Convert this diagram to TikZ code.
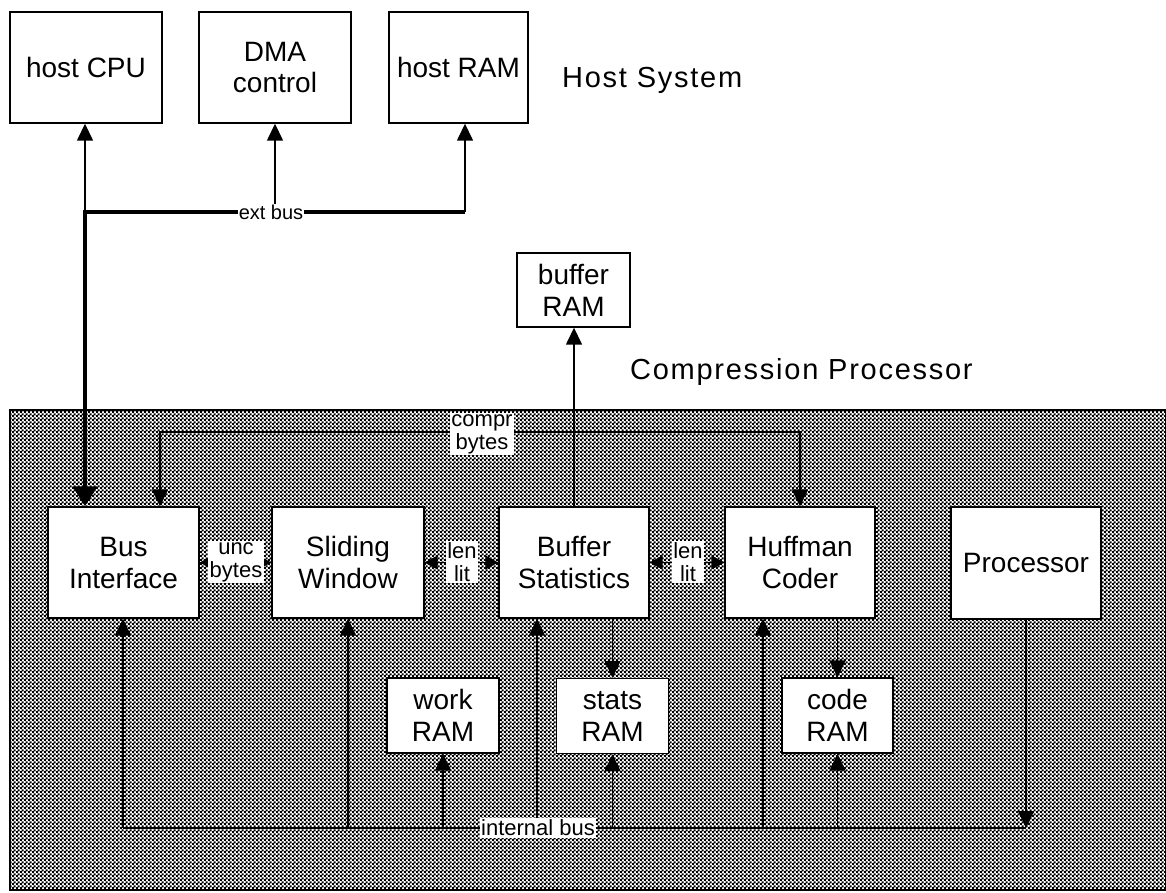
\documentclass[tikz,border=0pt]{standalone}
\usepackage{fontspec}
\setmainfont{Liberation Sans}
\usetikzlibrary{arrows.meta,patterns}
\pgfdeclarepatternformonly{halftone}{\pgfqpoint{0pt}{0pt}}{\pgfqpoint{4pt}{4pt}}{\pgfqpoint{4pt}{4pt}}{%
  \pgfpathrectangle{\pgfqpoint{0pt}{0pt}}{\pgfqpoint{2.4pt}{2.4pt}}%
  \pgfpathrectangle{\pgfqpoint{2pt}{2pt}}{\pgfqpoint{2.4pt}{2.4pt}}%
  \pgfusepath{fill}}
\begin{document}
\begin{tikzpicture}[x=1pt,y=-1pt,
  box/.style={draw,line width=1.4pt,fill=white,inner sep=0pt,align=center,
    font=\fontsize{28}{32}\selectfont},
  lbl/.style={fill=white,inner sep=1.5pt,align=center,font=\fontsize{22}{23}\selectfont},
  big/.style={inner sep=0pt,font=\fontsize{29}{32}\selectfont\addfontfeature{LetterSpace=6}},
  conn/.style={line width=1.5pt},
  arr/.style={conn,-{Triangle[length=17pt,width=16pt]}},
  dblarr/.style={conn,{Triangle[length=17pt,width=16pt]}-{Triangle[length=17pt,width=16pt]}},
  smalldbl/.style={conn,{Triangle[length=13pt,width=14pt]}-{Triangle[length=13pt,width=14pt]}},
  thickarr/.style={line width=4.5pt,-{Triangle[length=20pt,width=24pt]}},
  busline/.style={line width=2.4pt}
]
\useasboundingbox (0,0) rectangle (1166,892);
% compression processor region
\draw[line width=1.2pt,pattern=halftone] (10,410) rectangle (1166,890);

% host system
\node[box,minimum width=152pt,minimum height=111pt] (hostcpu) at (86,67.5) {host CPU};
\node[box,minimum width=152pt,minimum height=111pt] (dma) at (275,67.5) {DMA\\control};
\node[box,minimum width=139pt,minimum height=111pt] (hostram) at (458.5,67.5) {host RAM};
\node[big,anchor=base west] (hostsys) at (562,87) {Host System};

% buffer RAM and title
\node[box,minimum width=113pt,minimum height=74pt] (bufram) at (573.5,290) {buffer\\RAM};
\node[big,anchor=base west] (cptitle) at (630,379) {Compression Processor};

% main blocks
\node[box,minimum width=151pt,minimum height=111pt] (busif) at (123.5,562.5) {Bus\\Interface};
\node[box,minimum width=152pt,minimum height=111pt] (slide) at (348,562.5) {Sliding\\Window};
\node[box,minimum width=150pt,minimum height=111pt] (bufstat) at (574,562.5) {Buffer\\Statistics};
\node[box,minimum width=150pt,minimum height=111pt] (huff) at (800,562.5) {Huffman\\Coder};
\node[box,minimum width=150pt,minimum height=112pt] (proc) at (1026,563) {Processor};

% RAMs
\node[box,minimum width=112pt,minimum height=75pt] (workram) at (443,715.5) {work\\RAM};
\node[box,minimum width=112pt,minimum height=75pt] (statsram) at (612.5,716) {stats\\RAM};
\node[box,minimum width=111pt,minimum height=75pt] (coderam) at (837.5,715.5) {code\\RAM};

% external bus
\coordinate (ebL) at (85,212);
\coordinate (ebR) at (465,212);
\draw[arr] (ebL) -- (ebL |- hostcpu.south);
\draw[arr] (dma.south |- ebL) -- (dma.south);
\draw[arr] (ebR) -- (ebR |- hostram.south);
\draw[thickarr] (ebR) -- (ebL) -- (ebL |- busif.north);
\node[lbl,font=\fontsize{20}{22}\selectfont,inner sep=1pt] (extbus) at (271,212) {ext bus};

% compressed bytes path
\coordinate (cl) at (160,432);
\coordinate (cr) at (800,432);
\draw[dblarr] (cl |- busif.north) -- (cl) -- (cr) -- (cr |- huff.north);
\node[lbl] (compr) at (482,434) {compr\\bytes};

% buffer RAM link
\draw[arr] (bufstat.north) -- (bufstat.north |- bufram.south);

% data path between blocks
\draw[smalldbl] (busif.east) -- (slide.west);
\node[lbl] (unc) at (236,562) {unc\\bytes};
\draw[smalldbl] (slide.east) -- (bufstat.west);
\node[lbl] (ll1) at (462,562) {len\\lit};
\draw[smalldbl] (bufstat.east) -- (huff.west);
\node[lbl] (ll2) at (688,562) {len\\lit};

% RAM links from blocks
\draw[arr] (statsram.north |- bufstat.south) -- (statsram.north);
\draw[arr] (coderam.north |- huff.south) -- (coderam.north);

% internal bus
\coordinate (ibL) at (123,828);
\coordinate (ibR) at (1026,828);
\draw[busline] (ibL) -- (ibR);
\draw[arr] (ibL) -- (ibL |- busif.south);
\draw[arr] (slide.south |- ibL) -- (slide.south);
\draw[arr] (workram.south |- ibL) -- (workram.south);
\draw[arr] ([xshift=-37pt]bufstat.south |- ibL) -- ([xshift=-37pt]bufstat.south);
\draw[arr] (statsram.south |- ibL) -- (statsram.south);
\draw[arr] ([xshift=-37pt]huff.south |- ibL) -- ([xshift=-37pt]huff.south);
\draw[arr] (coderam.south |- ibL) -- (coderam.south);
\draw[arr] (proc.south) -- (ibR);
\node[lbl] (intbus) at (538,828) {internal bus};
\end{tikzpicture}
\end{document}
